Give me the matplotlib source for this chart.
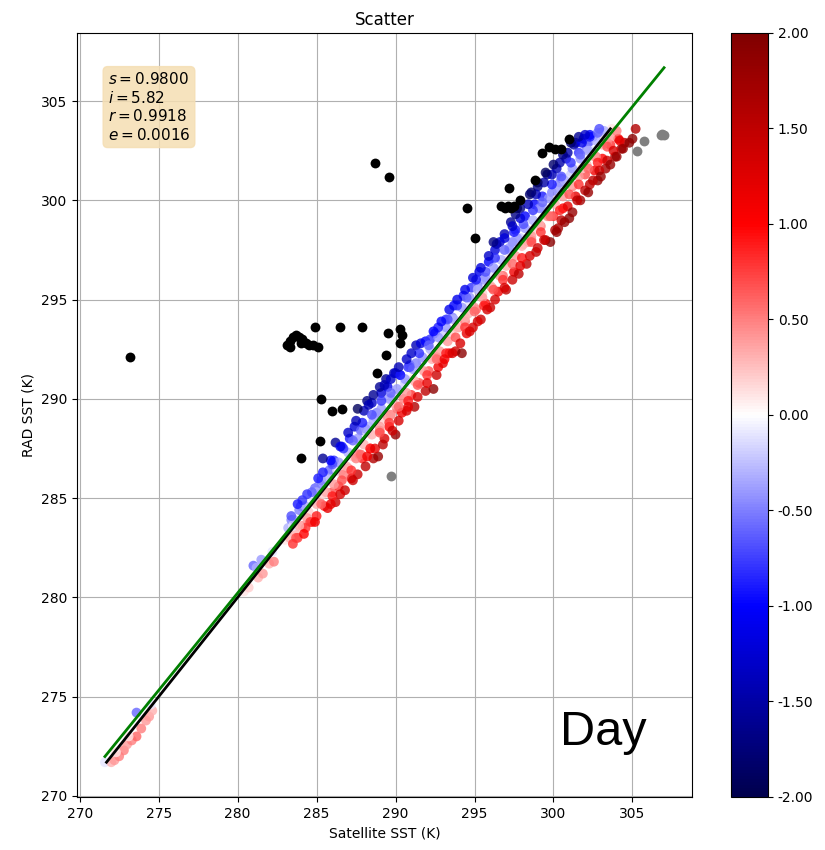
import numpy as np
import matplotlib
matplotlib.use("Agg")
from matplotlib import pyplot as plt
from matplotlib import cm, colors

# fit stats shown in the box
s_fit = 0.9800
i_fit = 5.82
r_fit = 0.9918
e_fit = 0.0016

# satellite SST (x) / RAD SST (y), main band
sat_sst = [
    271.6, 272.0, 272.2, 272.5, 272.8, 273.0, 273.3, 273.6, 273.9, 274.2, 274.4, 274.6, 274.5, 272.3, 273.1, 273.6,
    280.4, 280.7, 281.0, 281.2, 281.3, 281.6, 282.0, 282.3, 281.5, 282.2,
    283.2, 283.4, 283.6, 283.8, 284.0, 284.1, 284.3, 284.5, 284.7, 284.9, 285.0, 285.2, 285.3, 285.5, 285.6, 285.7,
    285.8, 286.0, 286.1, 286.2, 286.4, 286.5, 286.6, 286.8, 287.0, 287.1, 287.2, 287.4, 287.5, 287.6, 287.8, 287.9,
    288.0, 288.1, 288.3, 288.4, 288.5, 288.6, 288.8, 288.9, 289.0, 289.1, 289.3, 289.4, 289.5, 289.6, 289.8,
    290.0, 290.1, 290.3, 290.4, 290.6, 290.7, 290.9, 291.0, 291.2, 291.3, 291.6, 291.9, 292.2,
    291.5, 291.7, 291.9, 292.1, 292.4, 292.5, 292.7, 292.9, 293.0, 293.2, 293.4, 293.5, 293.7, 293.8,
    294.0, 294.2, 294.3, 294.5, 294.6, 294.8, 294.9, 295.1, 295.3, 295.4, 295.6, 295.7, 295.9,
    296.0, 296.2, 296.3, 296.5, 296.6, 296.8, 296.9, 297.0, 297.2, 297.3, 297.5, 297.6, 297.8, 297.9,
    298.0, 298.2, 298.3, 298.5, 298.6, 298.8, 298.9, 299.0, 299.2, 299.3, 299.5, 299.6, 299.8, 299.9,
    300.0, 300.2, 300.3, 300.5, 300.6, 300.8, 301.0, 301.1, 301.3, 301.4, 301.6, 301.7, 301.9,
    302.0, 302.2, 302.3, 302.5, 302.6, 302.8, 303.0, 303.1, 303.3, 303.5, 303.6, 303.7, 303.9,
    304.1, 304.3, 304.5, 304.8, 305.0, 305.2,
    283.0, 283.5, 284.2, 284.8, 285.4, 286.3, 287.3, 288.2, 289.2, 290.2, 291.1, 292.3, 293.1, 293.9,
    294.7, 295.5, 296.4, 297.1, 297.9, 298.7, 299.4, 300.1, 300.9, 301.8, 302.4, 303.2,
    283.9, 285.1, 286.7, 287.7, 288.7, 289.7, 290.5, 291.3, 292.6, 293.6, 294.4, 295.2, 296.1, 297.4,
    298.4, 299.1, 299.7, 300.4, 301.2, 302.1, 302.7, 303.4,
    288.2, 288.6, 289.0, 289.4, 289.9, 286.2, 286.0, 290.0, 290.8,
]
rad_sst = [
    271.7, 271.7, 271.8, 272.0, 272.3, 272.6, 272.8, 273.0, 273.4, 273.8, 274.0, 274.3, 274.6, 272.2, 273.0, 274.2,
    280.3, 280.5, 281.6, 281.5, 281.0, 281.2, 281.7, 281.8, 281.9, 282.3,
    283.5, 283.9, 283.3, 283.0, 284.6, 283.6, 283.5, 284.3, 283.8, 285.5, 284.1, 284.8, 285.9, 284.6, 285.3, 284.5,
    286.4, 285.3, 286.9, 284.8, 285.6, 286.3, 287.6, 285.4, 286.5, 288.0, 286.0, 288.6, 287.3, 286.2, 288.4, 287.0,
    289.4, 286.6, 288.6, 287.5, 289.8, 287.0, 289.3, 287.1, 288.4, 290.3, 288.0, 289.2, 290.6, 288.6, 290.1,
    288.2, 289.5, 291.2, 289.3, 290.8, 289.4, 291.7, 290.2, 289.6, 292.7, 292.8, 292.9, 293.0,
    290.8, 291.9, 290.4, 291.4, 290.5, 293.3, 291.6, 293.0, 291.8, 294.0, 292.3, 293.3, 294.7, 292.4,
    293.6, 292.3, 295.2, 293.3, 294.3, 295.6, 293.6, 294.5, 296.4, 294.0, 296.0, 294.8, 296.9,
    294.6, 296.3, 297.5, 295.4, 297.9, 296.2, 298.3, 295.5, 297.5, 298.9, 296.4, 298.5, 296.3, 299.6,
    297.7, 299.2, 296.8, 300.3, 298.0, 299.8, 297.4, 300.7, 298.7, 300.2, 298.0, 301.3, 297.9, 300.4,
    299.2, 301.6, 298.6, 301.1, 299.6, 302.1, 299.1, 301.3, 302.8, 300.2, 302.4, 300.0, 303.1,
    301.3, 302.9, 300.8, 303.2, 301.5, 301.0, 303.4, 302.1, 301.6, 303.5, 302.8, 303.6, 302.2,
    303.1, 302.6, 302.9, 302.9, 303.1, 303.6,
    282.9, 283.6, 284.1, 284.9, 285.2, 286.4, 287.1, 288.3, 289.0, 290.3, 291.0, 292.1, 293.3, 293.8,
    294.8, 295.3, 296.5, 297.0, 298.1, 298.5, 299.6, 300.0, 301.0, 301.6, 302.5, 303.1,
    284.4, 285.6, 286.2, 287.2, 289.1, 289.2, 290.0, 291.8, 292.1, 294.1, 293.9, 295.7, 295.6, 297.9,
    297.9, 299.6, 299.2, 300.9, 300.7, 302.6, 302.2, 302.9,
    289.9, 290.2, 290.6, 291.0, 291.3, 287.8, 286.8, 291.3, 291.6,
]

# points just under the 1:1 line (light red)
low_x = [283.3, 283.9, 284.4, 285.0, 285.6, 286.1, 286.9, 287.5, 288.0, 288.5, 289.0, 289.5, 290.0, 290.7,
         291.2, 291.8, 292.3, 292.8, 293.3, 293.9, 294.4, 295.0, 295.5, 296.0, 296.6, 297.0, 297.6, 298.1,
         298.6, 299.1, 299.6, 300.1, 300.6, 301.1, 301.6, 302.1, 302.6, 303.1, 303.6, 304.0]
low_y = [283.0, 283.6, 284.0, 284.7, 285.3, 285.7, 286.6, 287.0, 287.7, 288.2, 288.6, 289.1, 289.7, 290.3,
         290.9, 291.4, 292.0, 292.4, 292.9, 293.6, 294.1, 294.6, 295.1, 295.7, 296.2, 296.7, 297.2, 297.8,
         298.2, 298.8, 299.2, 299.8, 300.2, 300.8, 301.2, 301.8, 302.2, 302.8, 303.2, 303.5]

# points just over the 1:1 line (light blue)
high_x = [283.6, 284.3, 285.0, 285.7, 286.4, 287.0, 287.6, 288.1, 288.6, 289.1, 289.6, 290.1, 290.6, 291.1,
          291.7, 292.2, 292.7, 293.2, 293.7, 294.2, 294.7, 295.2, 295.7, 296.2, 296.7, 297.2, 297.7, 298.2,
          298.7, 299.2, 299.7, 300.2, 300.7, 301.2, 301.7, 302.2, 302.7, 303.2]
high_y = [283.9, 284.6, 285.3, 286.0, 286.8, 287.3, 288.0, 288.5, 288.9, 289.5, 290.0, 290.5, 291.0, 291.5,
          292.1, 292.5, 293.1, 293.6, 294.0, 294.6, 295.1, 295.5, 296.1, 296.6, 297.0, 297.6, 298.1, 298.6,
          299.0, 299.6, 300.1, 300.6, 301.0, 301.6, 302.1, 302.5, 303.0, 303.5]

# mid red
mred_x = [283.7, 284.6, 285.3, 286.0, 286.6, 287.2, 287.8, 288.4, 289.0, 289.6, 290.2, 290.8, 291.4, 292.0,
          292.6, 293.2, 293.8, 294.4, 295.0, 295.6, 296.2, 296.8, 297.4, 298.0, 298.6, 299.2, 299.8, 300.4,
          301.0, 301.6, 302.2, 302.8, 303.4]
mred_y = [283.0, 283.8, 284.7, 285.1, 285.9, 286.4, 287.2, 287.5, 288.3, 288.8, 289.6, 289.9, 290.7, 291.2,
          292.0, 292.3, 293.1, 293.6, 294.4, 294.7, 295.5, 296.0, 296.8, 297.1, 297.9, 298.4, 299.2, 299.5,
          300.3, 300.8, 301.6, 301.9, 302.7]

# mid blue
mblue_x = [283.4, 284.1, 284.7, 285.4, 286.0, 286.7, 287.3, 287.9, 288.5, 289.1, 289.7, 290.3, 290.9, 291.5,
           292.1, 292.7, 293.3, 293.9, 294.5, 295.1, 295.7, 296.3, 296.9, 297.5, 298.1, 298.7, 299.3, 299.9,
           300.5, 301.1, 301.7, 302.3, 302.9]
mblue_y = [284.1, 284.9, 285.3, 286.3, 286.7, 287.5, 287.9, 288.8, 289.2, 289.9, 290.3, 291.2, 291.6, 292.3,
           292.7, 293.6, 294.0, 294.7, 295.1, 296.0, 296.4, 297.1, 297.5, 298.4, 298.8, 299.5, 299.9, 300.8,
           301.2, 301.9, 302.3, 303.2, 303.6]

# outer red edge
red_x = [283.5, 284.2, 284.9, 285.9, 286.5, 287.3, 288.2, 288.7, 289.2, 289.8, 290.2, 290.8, 291.4, 292.0,
         292.6, 293.1, 293.6, 294.1, 294.7, 295.2, 295.8, 296.3, 296.9, 297.4, 297.9, 298.5, 299.0, 299.4,
         300.1, 300.5, 300.9, 301.5, 302.0, 302.5, 302.9, 303.4, 303.8, 304.2]
red_y = [282.7, 283.2, 283.8, 284.7, 285.2, 285.9, 287.1, 287.5, 287.7, 288.4, 288.9, 289.6, 290.1, 290.8,
         291.2, 292.0, 292.3, 292.8, 293.4, 293.9, 294.5, 295.0, 295.6, 296.0, 296.7, 297.2, 297.6, 298.0,
         298.5, 299.0, 299.7, 300.0, 300.5, 301.0, 301.5, 302.0, 302.5, 303.0]

# outer blue edge
blue_x = [283.8, 284.4, 285.1, 285.9, 286.5, 287.0, 287.5, 288.3, 289.3, 289.7, 290.2, 290.7, 291.0, 292.4,
          292.9, 293.4, 293.9, 294.4, 294.9, 295.4, 295.9, 296.4, 296.9, 297.4, 297.9, 298.4, 298.9, 299.4,
          299.9, 300.4, 300.9, 301.4, 301.8, 302.3, 302.8]
blue_y = [284.7, 285.2, 286.0, 286.9, 287.6, 288.3, 288.9, 289.7, 290.7, 291.0, 291.6, 292.0, 292.3, 293.4,
          293.9, 294.5, 295.0, 295.5, 296.1, 296.6, 297.2, 297.8, 298.1, 298.7, 299.1, 299.8, 300.3, 300.9,
          301.3, 301.9, 302.4, 302.9, 302.9, 303.3, 303.4]

# darkest blue / red near the warm end
dark_x = [298.6, 299.0, 299.5, 300.0, 300.6, 301.1, 301.6, 302.0, 297.6, 296.2,
          300.2, 300.7, 301.2, 302.2, 303.0, 303.6, 304.0, 304.4]
dark_y = [300.4, 300.9, 301.4, 301.8, 302.3, 302.9, 303.2, 303.3, 299.3, 297.9,
          298.4, 298.9, 299.4, 300.4, 301.2, 301.8, 302.2, 302.6]

# outliers far above / below the 1:1 line
out_x = [273.2, 283.1, 283.3, 283.5, 283.7, 283.9, 284.1, 284.3, 284.5, 284.8, 285.1, 283.3, 284.0,
         284.9, 286.5, 287.9, 289.5, 290.3, 290.4, 290.3, 289.4, 288.8, 286.0, 286.6, 287.6, 285.3, 285.2,
         284.0, 285.4, 288.7, 289.6, 299.3, 299.7, 300.1, 300.5, 301.0, 297.2, 298.8, 296.7, 296.9, 297.1,
         297.3, 297.5, 297.7, 297.9, 294.5, 295.0,
         289.7, 305.3, 305.7, 306.8, 307.0, 306.9]
out_y = [292.1, 292.7, 292.9, 293.1, 293.2, 293.1, 293.0, 292.8, 292.7, 292.7, 292.6, 292.6, 292.8,
         293.6, 293.6, 293.6, 293.3, 293.5, 293.2, 292.8, 292.2, 291.3, 289.4, 289.5, 289.5, 290.0, 287.9,
         287.0, 287.0, 301.9, 301.2, 302.4, 302.7, 302.6, 302.6, 303.1, 300.6, 301.0, 299.7, 299.6, 299.7,
         299.6, 299.7, 299.6, 300.0, 299.6, 298.1,
         286.1, 302.5, 303.0, 303.3, 303.3, 303.35]

x = np.array(sat_sst + low_x + high_x + mred_x + mblue_x + red_x + blue_x + dark_x + out_x)
y = np.array(rad_sst + low_y + high_y + mred_y + mblue_y + red_y + blue_y + dark_y + out_y)
diff = x - y

fig = plt.figure(figsize=(8.25, 8.5), dpi=100)
ax = fig.add_axes([0.0933, 0.0624, 0.7455, 0.8988])

norm = colors.Normalize(vmin=-2, vmax=2)
inside = (diff >= -2) & (diff <= 2)
ax.scatter(x[inside], y[inside], c=diff[inside], cmap='seismic', norm=norm,
           s=50, alpha=0.8, linewidths=0, zorder=2)
ax.scatter(x[diff < -2], y[diff < -2], color='black', s=50, linewidths=0, zorder=2)
ax.scatter(x[diff > 2], y[diff > 2], color='gray', s=50, linewidths=0, zorder=2)

# 1:1 line and fitted line
one = np.array([y.min(), y[inside].max()])
ax.plot(one, one, color='black', lw=2, zorder=3)
fx = np.array([x.min(), x.max()])
ax.plot(fx, s_fit * fx + i_fit, color='green', lw=2, zorder=4)

ax.grid(True)
ax.set_axisbelow(True)
ax.set_title('Scatter')
ax.set_xlabel('Satellite SST (K)')
ax.set_ylabel('RAD SST (K)')

txt = '\n'.join([r'$s=%.4f$' % s_fit, r'$i=%.2f$' % i_fit,
                 r'$r=%.4f$' % r_fit, r'$e=%.4f$' % e_fit])
ax.text(0.05, 0.95, txt, transform=ax.transAxes, fontsize=11, va='top',
        bbox=dict(boxstyle='round', facecolor='wheat', edgecolor='wheat', alpha=0.85))
ax.text(0.785, 0.068, 'Day', transform=ax.transAxes, fontsize=35,
        family='Liberation Sans', va='baseline')

cax = fig.add_axes([0.886, 0.0624, 0.0448, 0.8988])
sm = cm.ScalarMappable(norm=norm, cmap='seismic')
fig.colorbar(sm, cax=cax, ticks=[-2, -1.5, -1, -0.5, 0, 0.5, 1, 1.5, 2], format='%.2f')

fig.savefig('out.png', dpi=100)
